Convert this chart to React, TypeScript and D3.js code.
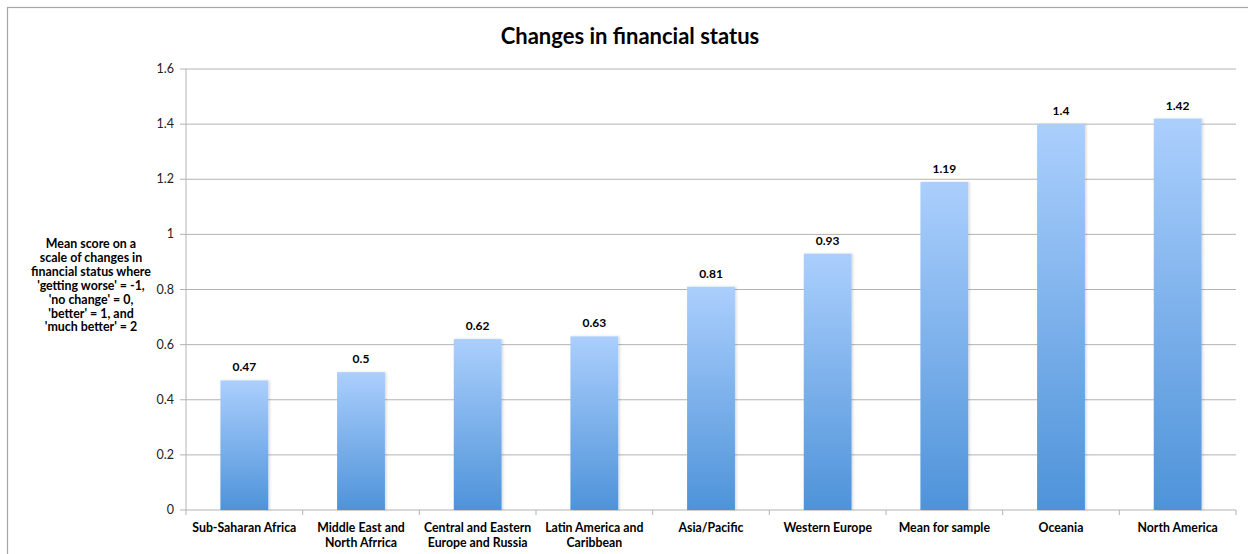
import React from "react";
import * as d3 from "d3";

const categories: string[][] = [
  ["Sub-Saharan Africa"],
  ["Middle East and", "North Afrrica"],
  ["Central and Eastern", "Europe and Russia"],
  ["Latin America and", "Caribbean"],
  ["Asia/Pacific"],
  ["Western Europe"],
  ["Mean for sample"],
  ["Oceania"],
  ["North America"],
];
const values: number[] = [0.47, 0.5, 0.62, 0.63, 0.81, 0.93, 1.19, 1.4, 1.42];
const valueLabels: string[] = ["0.47", "0.5", "0.62", "0.63", "0.81", "0.93", "1.19", "1.4", "1.42"];
const yTicks: number[] = [0, 0.2, 0.4, 0.6, 0.8, 1, 1.2, 1.4, 1.6];
const yTitle: string[] = [
  "Mean score on a",
  "scale of changes in",
  "financial status where",
  "'getting worse' = -1,",
  "'no change' = 0,",
  "'better' = 1, and",
  "'much better' = 2",
];
const title = "Changes in financial status";

const W = 1248;
const H = 554;
const left = 186;
const right = 1236;
const top = 69;
const bottom = 510;
const font = "Lato, 'Open Sans', sans-serif";

export default function App() {
  const x = d3
    .scaleBand<number>()
    .domain(values.map((_, i) => i))
    .range([left, right])
    .paddingInner(0.59)
    .paddingOuter(0.295);
  const y = d3.scaleLinear().domain([0, 1.6]).range([bottom, top]);
  const step = (right - left) / values.length;

  return (
    <svg
      width={W}
      height={H}
      style={{ position: "absolute", left: 0, top: 0, background: "#fff" }}
      fontFamily={font}
    >
      <defs>
        <linearGradient id="barGrad" x1="0" y1="0" x2="0" y2="1">
          <stop offset="0%" stopColor="#abcffd" />
          <stop offset="100%" stopColor="#4e93d9" />
        </linearGradient>
        <filter id="shadow" x="-20%" y="-5%" width="140%" height="110%">
          <feDropShadow dx="1.5" dy="0" stdDeviation="1" floodColor="#000" floodOpacity="0.15" />
        </filter>
      </defs>
      <rect x={7.5} y={7.5} width={W + 20} height={H + 20} fill="none" stroke="#a6a6a6" strokeWidth={1.2} />
      <text x={630} y={44} textAnchor="middle" fontSize={22} fontWeight="bold" fill="#000">
        {title}
      </text>
      {yTicks.map((t) => (
        <g key={t}>
          <line x1={left - 6} x2={right} y1={y(t)} y2={y(t)} stroke="#b3b3b3" strokeWidth={1} />
          <text x={174} y={y(t) + 4} textAnchor="end" fontSize={12.5} fill="#222">
            {String(t)}
          </text>
        </g>
      ))}
      <line x1={left} x2={left} y1={top} y2={bottom} stroke="#b3b3b3" strokeWidth={1} />
      {values.map((_, i) => (
        <line
          key={"t" + i}
          x1={left + step * (i + 1)}
          x2={left + step * (i + 1)}
          y1={bottom}
          y2={bottom + 5}
          stroke="#b3b3b3"
        />
      ))}
      <line x1={left} x2={left} y1={bottom} y2={bottom + 5} stroke="#b3b3b3" />
      {values.map((v, i) => (
        <g key={"b" + i}>
          <rect
            x={x(i)}
            y={y(v)}
            width={x.bandwidth()}
            height={bottom - y(v)}
            fill="url(#barGrad)"
            filter="url(#shadow)"
          />
          <text
            x={(x(i) as number) + x.bandwidth() / 2}
            y={y(v) - 9}
            textAnchor="middle"
            fontSize={12}
            fontWeight="bold"
            fill="#000"
          >
            {valueLabels[i]}
          </text>
        </g>
      ))}
      {categories.map((lines, i) => (
        <text
          key={"c" + i}
          x={(x(i) as number) + x.bandwidth() / 2}
          textAnchor="middle"
          fontSize={12.3}
          fontWeight="bold"
          fill="#000"
        >
          {lines.map((l, j) => (
            <tspan key={j} x={(x(i) as number) + x.bandwidth() / 2} y={532 + j * 15}>
              {l}
            </tspan>
          ))}
        </text>
      ))}
      <text textAnchor="middle" fontSize={12.4} fontWeight="bold" fill="#000">
        {yTitle.map((l, j) => (
          <tspan key={j} x={91} y={248 + j * 13.9}>
            {l}
          </tspan>
        ))}
      </text>
    </svg>
  );
}
